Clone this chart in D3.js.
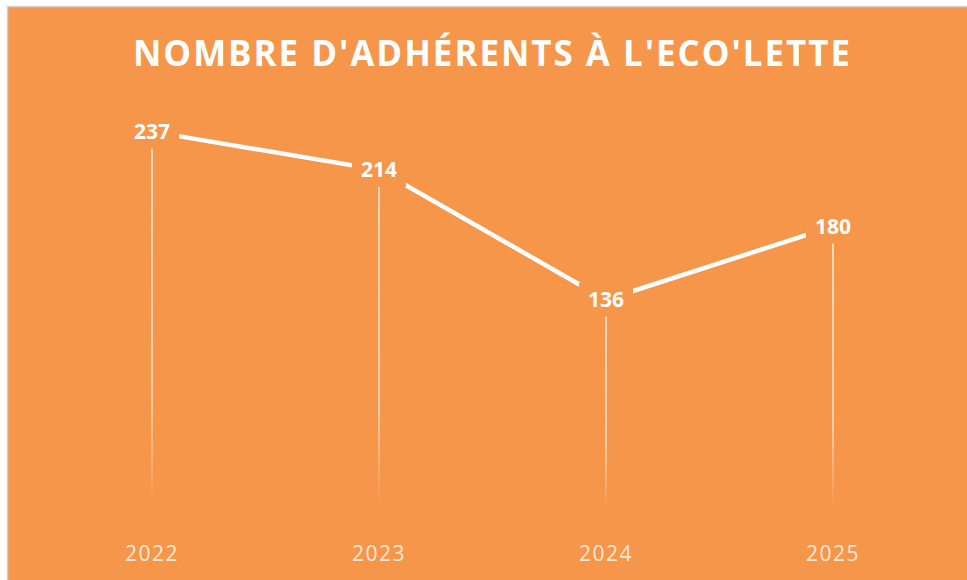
<!DOCTYPE html>
<html>
<head>
<meta charset="utf-8">
<script src="https://cdn.jsdelivr.net/npm/d3@7"></script>
<style>
  body { margin: 0; background: #fff; }
  svg { display: block; }
</style>
</head>
<body>
<div id="chart"></div>
<script>
// data
var years = ["2022", "2023", "2024", "2025"];
var members = [237, 214, 136, 180];
var title = "NOMBRE D'ADHÉRENTS À L'ECO'LETTE";

var width = 967, height = 580;
var orange = "#f5964a";

var data = years.map(function (y, i) { return { year: y, value: members[i] }; });

var svg = d3.select("#chart").append("svg")
    .attr("width", width)
    .attr("height", height);

// frame of the chart object
svg.append("rect")
    .attr("x", 7.5).attr("y", 6.5)
    .attr("width", width).attr("height", height)
    .attr("fill", orange)
    .attr("stroke", "#d2d2d2")
    .attr("stroke-width", 1.5);

var x = d3.scalePoint()
    .domain(years)
    .range([152, 833]);

var y = d3.scaleLinear()
    .domain([0, 250])
    .range([526, 110]);

// fading gradient for drop lines
var defs = svg.append("defs");
var grad = defs.append("linearGradient")
    .attr("id", "fade")
    .attr("x1", 0).attr("y1", 0).attr("x2", 0).attr("y2", 1);
grad.append("stop").attr("offset", "0%").attr("stop-color", "#fff").attr("stop-opacity", 0.85);
grad.append("stop").attr("offset", "70%").attr("stop-color", "#fff").attr("stop-opacity", 0.7);
grad.append("stop").attr("offset", "100%").attr("stop-color", "#fff").attr("stop-opacity", 0);

svg.append("g").selectAll("rect.drop")
    .data(data)
    .join("rect")
    .attr("class", "drop")
    .attr("x", d => x(d.year) - 0.75)
    .attr("y", d => y(d.value))
    .attr("width", 1.5)
    .attr("height", d => y(0) - 18 - y(d.value))
    .attr("fill", "url(#fade)");

// the line
var line = d3.line()
    .x(d => x(d.year))
    .y(d => y(d.value));

svg.append("path")
    .datum(data)
    .attr("d", line)
    .attr("fill", "none")
    .attr("stroke", "#fff")
    .attr("stroke-width", 4.5);

// data labels, with an orange box that cuts the line around them
var labels = svg.append("g")
    .selectAll("g")
    .data(data)
    .join("g")
    .attr("transform", d => "translate(" + x(d.year) + "," + y(d.value) + ")");

labels.append("rect")
    .attr("x", -27).attr("y", -17)
    .attr("width", 54).attr("height", 34)
    .attr("fill", orange);

labels.append("text")
    .attr("text-anchor", "middle")
    .attr("dy", "0.36em")
    .attr("font-family", "Open Sans, sans-serif")
    .attr("font-weight", "bold")
    .attr("font-size", 21)
    .attr("fill", "#fff")
    .text(d => d.value);

// category axis labels
svg.append("g").selectAll("text")
    .data(years)
    .join("text")
    .attr("x", d => x(d))
    .attr("y", 561)
    .attr("text-anchor", "middle")
    .attr("font-family", "Open Sans, sans-serif")
    .attr("font-size", 21)
    .attr("letter-spacing", 1.5)
    .attr("fill", "#fde8d6")
    .text(d => d);

// title
svg.append("text")
    .attr("x", 133)
    .attr("y", 66)
    .attr("textLength", 719)
    .attr("lengthAdjust", "spacingAndGlyphs")
    .attr("font-family", "Open Sans, sans-serif")
    .attr("font-weight", "bold")
    .attr("font-size", 35)
    .attr("letter-spacing", 2)
    .attr("fill", "#fff")
    .text(title);
</script>
</body>
</html>
